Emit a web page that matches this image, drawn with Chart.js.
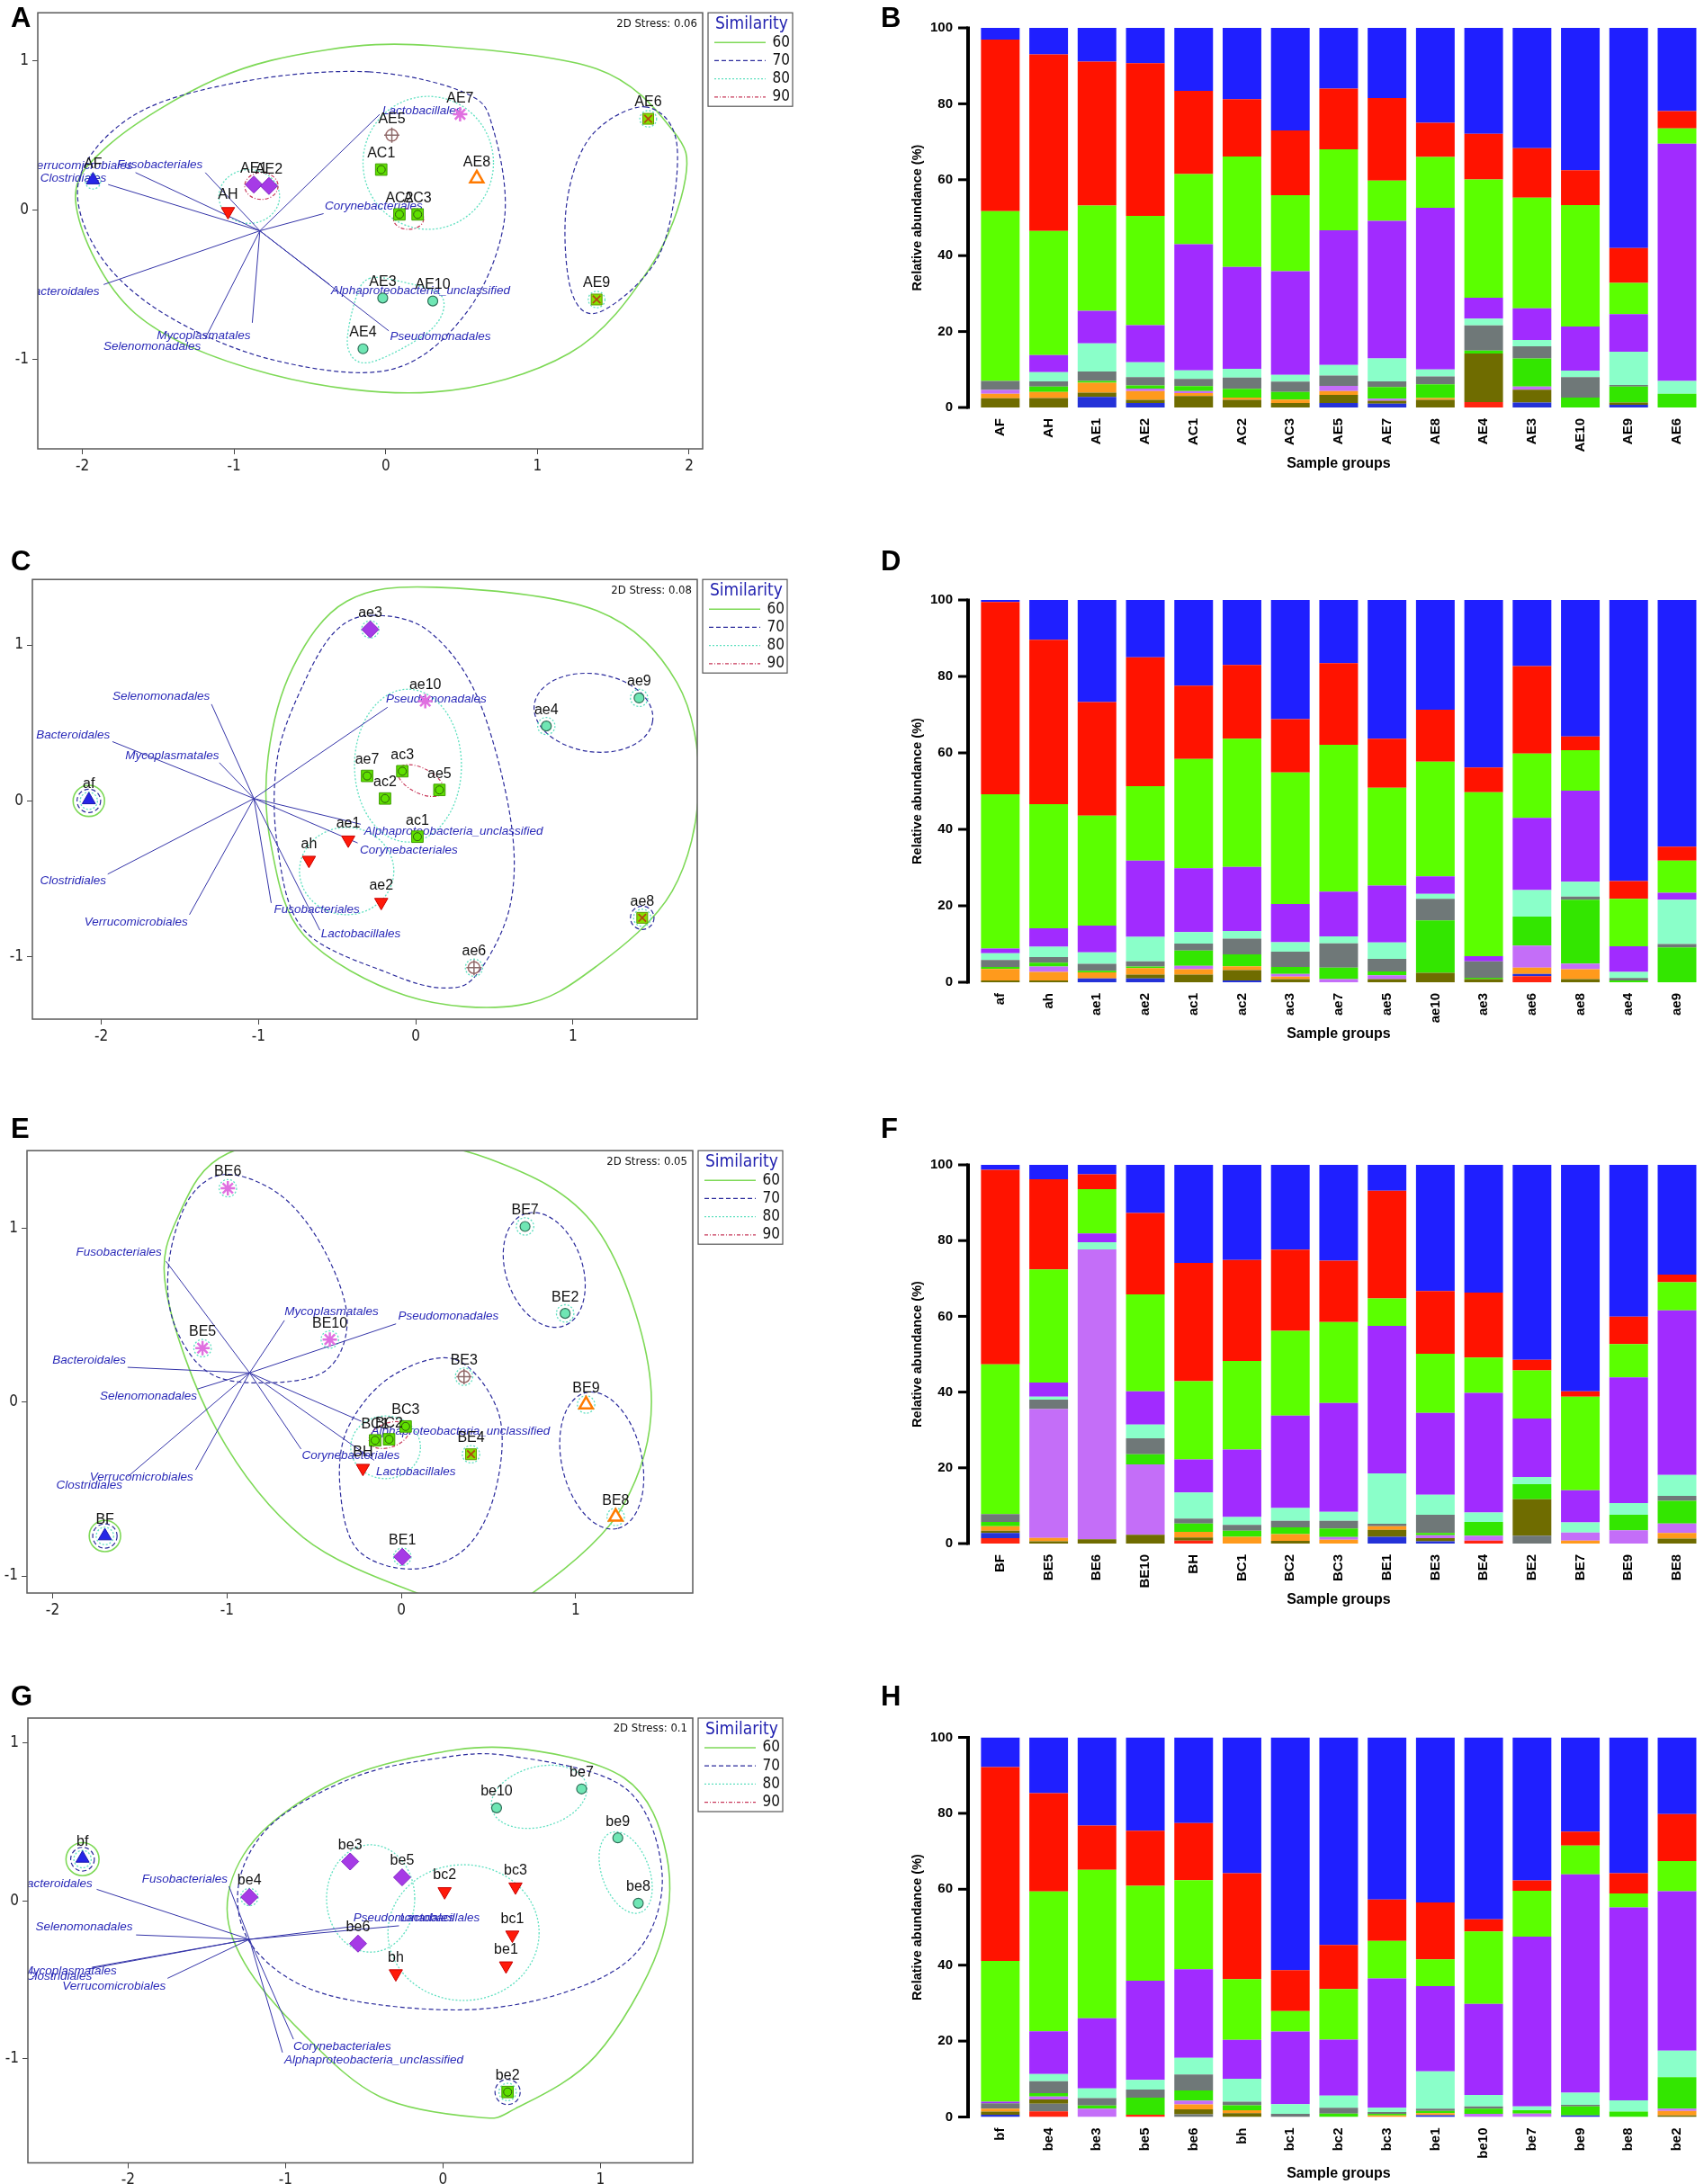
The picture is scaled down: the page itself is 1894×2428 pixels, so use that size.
<!DOCTYPE html>
<html>
<head>
<meta charset="utf-8">
<script src="https://cdn.jsdelivr.net/npm/chart.js@4.4.1/dist/chart.umd.min.js"></script>
<style>
body { margin: 0; background: #fff; }
#page { position: relative; width: 1894px; height: 2428px; overflow: hidden; background: #fff; }
canvas { position: absolute; }
.lab { position: absolute; font: bold 31px 'Liberation Sans', Arial, sans-serif; line-height: 31px; color: #000; }
</style>
</head>
<body>
<div id="page">
  <canvas id="ordA" width="940" height="560" style="left:0;top:0"></canvas>
  <canvas id="barB" width="954" height="560" style="left:940px;top:0"></canvas>
  <canvas id="ordC" width="940" height="560" style="left:0;top:630px"></canvas>
  <canvas id="barD" width="954" height="540" style="left:940px;top:640px"></canvas>
  <canvas id="ordE" width="940" height="560" style="left:0;top:1265px"></canvas>
  <canvas id="barF" width="954" height="540" style="left:940px;top:1270px"></canvas>
  <canvas id="ordG" width="940" height="533" style="left:0;top:1895px"></canvas>
  <canvas id="barH" width="954" height="528" style="left:940px;top:1900px"></canvas>
  <div class="lab" style="left:12px;top:4px">A</div>
  <div class="lab" style="left:979px;top:4px">B</div>
  <div class="lab" style="left:12px;top:608px">C</div>
  <div class="lab" style="left:979px;top:608px">D</div>
  <div class="lab" style="left:12px;top:1239px">E</div>
  <div class="lab" style="left:979px;top:1239px">F</div>
  <div class="lab" style="left:12px;top:1870px">G</div>
  <div class="lab" style="left:979px;top:1870px">H</div>
</div>
<script>
const FONT = "'Liberation Sans', Arial, sans-serif"
const NARROW = "'Liberation Sans Narrow', 'Arial Narrow', 'DejaVu Sans Condensed', 'Liberation Sans', sans-serif"

// ---------- NMDS panels (A, C, E, G) ----------
const simLevels = [60, 70, 80, 90]

const aNames = ['AF','AH','AE1','AE2','AE5','AE7','AC1','AE8','AC2','AC3','AE3','AE10','AE4','AE6','AE9']
const aX = [-1.93,-1.04,-0.87,-0.77,0.04,0.49,-0.03,0.60,0.09,0.21,-0.02,0.31,-0.15,1.73,1.39]
const aY = [0.20,-0.01,0.17,0.16,0.50,0.64,0.27,0.21,-0.03,-0.03,-0.59,-0.61,-0.93,0.61,-0.60]
const aMark = ['tri','down','dia','dia','plus','star','sq','otri','sq','sq','circ','circ','circ','boxx','boxx']
const aOrigin = [-0.83, -0.14]
const aVec = ['Verrucomicrobiales','Clostridiales','Fusobacteriales','Lactobacillales','Corynebacteriales','Bacteroidales','Mycoplasmatales','Selenomonadales','Pseudomonadales','Alphaproteobacteria_unclassified']
const aVecX = [-1.65,-1.83,-1.19,-0.04,-0.41,-1.86,-0.88,-1.19,0.02,-0.37]
const aVecY = [0.25,0.17,0.25,0.64,-0.025,-0.50,-0.756,-0.86,-0.81,-0.50]
const aLabX = [-2.01,-2.06,-1.49,0.24,-0.08,-2.13,-1.20,-1.54,0.36,0.23]
const aLabY = [0.295,0.213,0.303,0.664,0.027,-0.545,-0.844,-0.916,-0.848,-0.541]
const aHulls = [
  {lvl:60, pts:[[0.31,1.10],[1.39,0.945],[1.89,0.535],[1.975,0.207],[1.74,-0.39],[1.21,-0.96],[0.31,-1.22],[-0.76,-1.10],[-1.65,-0.695],[-2.04,0.02],[-1.83,0.43],[-1.11,0.88],[-0.4,1.07]]},
  {lvl:70, pts:[[-0.11,0.924],[0.53,0.78],[0.71,0.535],[0.78,-0.08],[0.53,-0.69],[0.03,-1.07],[-0.76,-1.0],[-1.47,-0.69],[-1.9,-0.28],[-2.02,0.21],[-1.65,0.64],[-0.94,0.86]]},
  {lvl:70, pts:[[1.71,0.69],[1.92,0.43],[1.81,-0.285],[1.42,-0.68],[1.225,-0.55],[1.19,0.02],[1.35,0.49]]},
  {lvl:80, ell:[0.28,0.315,0.43,0.445,0]},
  {lvl:80, ell:[-0.9,0.09,0.2,0.18,0]},
  {lvl:80, pts:[[-0.11,-0.46],[0.1,-0.48],[0.37,-0.58],[0.3,-0.8],[-0.1,-1.02],[-0.25,-0.92],[-0.2,-0.6]]},
  {lvl:80, ell:[-1.93,0.19,0.05,0.05,0]},
  {lvl:80, ell:[1.73,0.61,0.055,0.055,0]},
  {lvl:80, ell:[1.39,-0.60,0.055,0.055,0]},
  {lvl:90, ell:[-0.82,0.16,0.11,0.09,0]},
  {lvl:90, ell:[0.15,-0.06,0.1,0.07,0]}
]

const cNames = ['af','ae3','ae10','ae9','ae4','ae7','ac3','ae5','ac2','ac1','ae1','ah','ae2','ae6','ae8']
const cX = [-2.08,-0.29,0.06,1.42,0.83,-0.31,-0.086,0.15,-0.196,0.01,-0.43,-0.68,-0.22,0.37,1.44]
const cY = [0.006,1.10,0.64,0.66,0.48,0.16,0.19,0.07,0.015,-0.23,-0.25,-0.38,-0.65,-1.07,-0.75]
const cMark = ['tri','dia','star','circ','circ','sq','sq','sq','sq','sq','down','down','down','plus','boxx']
const cOrigin = [-1.03, 0.015]
const cVec = ['Selenomonadales','Bacteroidales','Mycoplasmatales','Pseudomonadales','Alphaproteobacteria_unclassified','Corynebacteriales','Clostridiales','Verrucomicrobiales','Fusobacteriales','Lactobacillales']
const cVecX = [-1.30,-1.93,-1.25,-0.18,-0.35,-0.37,-1.96,-1.44,-0.92,-0.61]
const cVecY = [0.62,0.38,0.245,0.60,-0.15,-0.27,-0.47,-0.73,-0.655,-0.83]
const cLabX = [-1.62,-2.18,-1.55,0.13,0.24,-0.045,-2.18,-1.78,-0.63,-0.35]
const cLabY = [0.67,0.42,0.29,0.65,-0.195,-0.316,-0.515,-0.78,-0.70,-0.855]
const cHulls = [
  {lvl:60, pts:[[0.13,1.37],[1.15,1.22],[1.66,0.76],[1.80,0.09],[1.63,-0.58],[1.15,-1.06],[0.66,-1.31],[-0.06,-1.25],[-0.71,-0.865],[-0.92,-0.29],[-0.94,0.28],[-0.78,0.86],[-0.44,1.28]]},
  {lvl:60, ell:[-2.08,0.0,0.1,0.1,0]},
  {lvl:70, pts:[[-0.27,1.19],[0.08,1.09],[0.39,0.67],[0.60,-0.10],[0.60,-0.67],[0.39,-1.11],[0.18,-1.2],[-0.16,-1.11],[-0.71,-0.83],[-0.88,-0.29],[-0.88,0.28],[-0.71,0.76],[-0.51,1.09]]},
  {lvl:70, ell:[1.13,0.565,0.38,0.25,-8]},
  {lvl:70, ell:[-2.08,0.0,0.075,0.075,0]},
  {lvl:70, ell:[1.44,-0.75,0.075,0.075,0]},
  {lvl:80, ell:[-0.05,0.226,0.34,0.49,0]},
  {lvl:80, ell:[-0.44,-0.45,0.30,0.28,0]},
  {lvl:80, ell:[-0.29,1.10,0.055,0.055,0]},
  {lvl:80, ell:[1.42,0.66,0.055,0.055,0]},
  {lvl:80, ell:[0.83,0.48,0.055,0.055,0]},
  {lvl:80, ell:[0.37,-1.07,0.055,0.055,0]},
  {lvl:80, ell:[1.44,-0.75,0.055,0.055,0]},
  {lvl:80, ell:[-2.08,0.0,0.055,0.055,0]},
  {lvl:90, ell:[0.03,0.13,0.16,0.08,-27]}
]

const eNames = ['BE6','BE7','BE2','BE5','BE10','BE3','BE9','BC1','BC2','BC3','BE4','BH','BE8','BF','BE1']
const eX = [-0.995,0.71,0.94,-1.14,-0.41,0.36,1.06,-0.15,-0.07,0.025,0.40,-0.22,1.23,-1.70,0.006]
const eY = [1.23,1.01,0.51,0.31,0.36,0.146,-0.014,-0.22,-0.214,-0.14,-0.30,-0.38,-0.66,-0.77,-0.89]
const eMark = ['star','circ','circ','star','star','plus','otri','sq','sq','sq','boxx','down','otri','tri','dia']
const eOrigin = [-0.87, 0.168]
const eVec = ['Fusobacteriales','Mycoplasmatales','Pseudomonadales','Bacteroidales','Selenomonadales','Alphaproteobacteria_unclassified','Corynebacteriales','Lactobacillales','Verrucomicrobiales','Clostridiales']
const eVecX = [-1.35,-0.67,-0.03,-1.57,-1.17,-0.23,-0.575,-0.155,-1.18,-1.57]
const eVecY = [0.81,0.47,0.45,0.20,0.075,-0.11,-0.27,-0.335,-0.39,-0.43]
const eLabX = [-1.62,-0.40,0.27,-1.79,-1.45,0.34,-0.29,0.084,-1.49,-1.79]
const eLabY = [0.86,0.52,0.495,0.24,0.036,-0.17,-0.31,-0.40,-0.43,-0.48]
const eHulls = [
  {lvl:60, pts:[[-0.31,1.54],[0.5,1.40],[1.12,1.0],[1.43,0.11],[1.27,-0.60],[0.75,-1.10],[0.44,-1.19],[0.12,-1.11],[-0.56,-0.78],[-1.06,-0.157],[-1.35,0.65],[-1.27,1.09],[-0.995,1.43]]},
  {lvl:60, ell:[-1.70,-0.77,0.09,0.09,0]},
  {lvl:70, pts:[[-0.995,1.31],[-0.68,1.18],[-0.435,0.86],[-0.31,0.47],[-0.435,0.18],[-0.81,0.11],[-1.12,0.18],[-1.31,0.47],[-1.33,0.825],[-1.21,1.18]]},
  {lvl:70, ell:[0.82,0.76,0.34,0.22,-71]},
  {lvl:70, pts:[[0.31,0.245],[0.56,-0.07],[0.54,-0.51],[0.37,-0.84],[0.06,-0.96],[-0.25,-0.85],[-0.35,-0.51],[-0.31,-0.157],[-0.06,0.146]]},
  {lvl:70, ell:[1.15,-0.336,0.40,0.23,-77]},
  {lvl:70, ell:[-1.70,-0.77,0.07,0.07,0]},
  {lvl:80, ell:[-0.09,-0.26,0.2,0.18,0]},
  {lvl:80, ell:[-0.995,1.23,0.05,0.05,0]},
  {lvl:80, ell:[0.71,1.01,0.05,0.05,0]},
  {lvl:80, ell:[0.94,0.51,0.05,0.05,0]},
  {lvl:80, ell:[-1.14,0.31,0.05,0.05,0]},
  {lvl:80, ell:[-0.41,0.36,0.05,0.05,0]},
  {lvl:80, ell:[0.36,0.146,0.05,0.05,0]},
  {lvl:80, ell:[1.06,-0.014,0.05,0.05,0]},
  {lvl:80, ell:[0.40,-0.30,0.05,0.05,0]},
  {lvl:80, ell:[1.23,-0.66,0.05,0.05,0]},
  {lvl:80, ell:[-1.70,-0.77,0.05,0.05,0]},
  {lvl:80, ell:[0.006,-0.89,0.05,0.05,0]},
  {lvl:90, ell:[-0.07,-0.19,0.12,0.07,20]}
]

const gNames = ['bf','be4','be3','be5','be6','be10','be7','be9','be8','bc2','bc3','bc1','be1','bh','be2']
const gX = [-2.29,-1.23,-0.59,-0.26,-0.54,0.34,0.88,1.11,1.24,0.01,0.46,0.44,0.40,-0.30,0.41]
const gY = [0.27,0.025,0.25,0.15,-0.27,0.59,0.71,0.40,-0.014,0.06,0.09,-0.215,-0.41,-0.46,-1.21]
const gMark = ['tri','dia','dia','dia','dia','circ','circ','circ','circ','down','down','down','down','down','sq']
const gOrigin = [-1.23, -0.243]
const gVec = ['Bacteroidales','Fusobacteriales','Selenomonadales','Mycoplasmatales','Clostridiales','Verrucomicrobiales','Pseudomonadales','Lactobacillales','Corynebacteriales','Alphaproteobacteria_unclassified']
const gVecX = [-2.20,-1.36,-1.95,-2.23,-2.25,-1.75,-0.56,-0.28,-0.95,-1.02]
const gVecY = [0.074,0.094,-0.215,-0.42,-0.43,-0.49,-0.16,-0.157,-0.876,-0.96]
const gLabX = [-2.46,-1.64,-2.28,-2.37,-2.44,-2.09,-0.25,-0.02,-0.64,-0.44]
const gLabY = [0.11,0.137,-0.166,-0.446,-0.48,-0.54,-0.11,-0.11,-0.92,-1.006]
const gHulls = [
  {lvl:60, pts:[[0.42,0.97],[1.15,0.78],[1.42,0.29],[1.37,-0.30],[0.97,-0.98],[0.46,-1.315],[0.22,-1.37],[-0.40,-1.24],[-0.885,-0.845],[-1.26,-0.395],[-1.37,-0.004],[-1.195,0.39],[-0.75,0.72],[-0.23,0.90]]},
  {lvl:60, ell:[-2.29,0.265,0.105,0.105,0]},
  {lvl:70, pts:[[0.42,0.92],[1.15,0.72],[1.39,0.19],[1.25,-0.30],[0.80,-0.57],[0.11,-0.69],[-0.75,-0.59],[-1.20,-0.30],[-1.30,0.094],[-1.09,0.485],[-0.575,0.78],[-0.06,0.90]]},
  {lvl:70, ell:[-2.29,0.265,0.075,0.075,0]},
  {lvl:70, ell:[0.41,-1.21,0.08,0.08,0]},
  {lvl:80, ell:[0.61,0.66,0.31,0.19,15]},
  {lvl:80, ell:[1.16,0.18,0.27,0.15,-70]},
  {lvl:80, ell:[-0.46,0.016,0.28,0.34,0]},
  {lvl:80, ell:[0.13,-0.20,0.48,0.43,0]},
  {lvl:80, ell:[-2.29,0.265,0.055,0.055,0]},
  {lvl:80, ell:[-1.23,0.025,0.055,0.055,0]},
  {lvl:80, ell:[0.41,-1.21,0.055,0.055,0]}
]

// ---------- relative abundance panels (B, D, F, H) ----------
const yTicks = [0, 20, 40, 60, 80, 100]
const layerNames = ['red2','gray0','navy','olive','orange','lilac','green2','gray','aqua','purple','green','red','blue']
const layerColors = ['#ff2410','#6f7777','#2432d8','#6f6c00','#ff9a1c','#c46ef8','#33e600','#6f7878','#8affc9','#a12bff','#5bff00','#ff1300','#1f1fff']

const bLabels = ['AF','AH','AE1','AE2','AC1','AC2','AC3','AE5','AE7','AE8','AE4','AE3','AE10','AE9','AE6']
const bRed2   = [0,0,0,0,0,0,0,0,0,0,1.4,0,0,0,0]
const bGray0  = [0,0,0,0,0,0,0,0,0,0,0,0,0,0,0]
const bNavy   = [0,0,2.8,1.2,0,0,0,1.2,1.0,0,0,1.3,0,0.7,0]
const bOlive  = [2.4,2.5,1.1,0.8,3.0,2.0,1.2,2.1,0.8,2.0,12.8,3.4,0,0.6,0]
const bOrange = [1.2,1.6,2.6,2.3,0.8,0.6,0.9,1.0,0,0.5,0,0,0,0,0]
const bLilac  = [1.0,0,0,0.7,0.5,0,0,1.4,0.5,0,0,0.8,0,0,0]
const bGreen2 = [0,1.4,0.5,0.8,1.3,2.3,2.0,0,3.1,3.6,0.8,7.4,2.6,4.2,3.6]
const bGray   = [2.4,1.4,2.5,2.2,1.9,3.0,2.7,2.7,1.5,2.1,6.6,3.2,5.4,0.4,0]
const bAqua   = [0,2.4,7.4,3.9,2.3,2.3,1.8,2.8,6.0,1.8,1.8,1.7,1.7,8.8,3.4]
const bPurple = [0,4.5,8.6,9.8,33.2,26.8,27.3,35.5,36.3,42.6,5.5,8.3,11.6,9.9,62.5]
const bGreen  = [44.7,32.7,27.7,28.8,18.5,29.1,20.0,21.3,10.6,13.4,31.2,29.2,32.0,8.2,4.0]
const bRed    = [45.2,46.5,37.9,40.2,21.9,15.1,17.1,16.0,21.7,9.0,12.0,13.0,9.2,9.2,4.6]
const bBlue   = [3.1,7.0,8.9,9.3,16.6,18.8,27.0,16.0,18.5,25.0,27.9,31.7,37.5,58.0,21.9]

const dLabels = ['af','ah','ae1','ae2','ac1','ac2','ac3','ae7','ae5','ae10','ae3','ae6','ae8','ae4','ae9']
const dRed2   = [0,0,0,0,0,0,0,0,0,0,0,1.6,0,0,0]
const dGray0  = [0,0,0,0,0,0,0,0,0,0,0,0,0,0,0]
const dNavy   = [0,0,1.0,1.0,0,0.5,0,0,0,0,0,0.6,0,0,0]
const dOlive  = [0.5,0.5,0,1.0,2.0,2.7,0.8,0,0.8,2.5,0.8,0,0.8,0,0]
const dOrange = [3.0,2.2,1.6,1.7,1.4,1.0,0.7,0,0,0,0,1.6,2.6,0,0]
const dLilac  = [0,1.4,0,0,0.9,0,0.7,0.8,1.0,0,0,5.8,1.5,0,0]
const dGreen2 = [0.5,1.0,0.4,0.4,4.0,3.1,1.8,3.0,1.0,13.7,0.4,7.6,16.7,0.5,9.1]
const dGray   = [1.8,1.5,1.8,1.4,1.8,4.1,4.0,6.4,3.3,5.6,4.3,0,0.8,0.6,0.9]
const dAqua   = [1.8,2.7,3.0,6.4,3.0,2.0,2.5,1.8,4.3,1.3,0,6.9,3.9,1.6,11.6]
const dPurple = [1.2,4.8,7.0,19.9,16.7,16.8,10.0,11.7,14.9,4.6,1.3,18.9,23.8,6.7,1.8]
const dGreen  = [40.4,32.5,28.8,19.5,28.6,33.5,34.4,38.4,25.6,30.0,42.9,16.8,10.6,12.4,8.4]
const dRed    = [50.3,43.0,29.7,33.7,19.2,19.3,13.9,21.4,12.8,13.6,6.5,22.9,3.6,4.7,3.7]
const dBlue   = [0.5,10.4,26.7,15.0,22.4,17.0,31.2,16.5,36.3,28.7,43.8,17.7,35.7,73.5,64.5]

const fLabels = ['BF','BE5','BE6','BE10','BH','BC1','BC2','BC3','BE1','BE3','BE4','BE2','BE7','BE9','BE8']
const fRed2   = [1.4,0,0,0,0.8,0,0,0,0,0,0.8,0,0,0,0]
const fGray0  = [0,0,0,0,0,0,0,0,0,0,0,2.1,0,0,0]
const fNavy   = [1.4,0,0,0,0,0,0,0,1.8,0.6,0,0,0,0,0]
const fOlive  = [0.6,0.6,1.1,2.3,0.8,0,0.7,0,1.8,0.8,0,9.6,0,0,1.3]
const fOrange = [1.2,0.9,0,0,1.5,1.8,1.8,1.0,1.0,0,0,0,0.8,0,1.5]
const fLilac  = [0,34.0,76.6,18.6,0,0,0,0.7,0,0.8,1.3,0,2.1,3.5,2.5]
const fGreen2 = [1.1,0,0,2.7,2.2,1.6,1.8,2.3,0,0.6,3.6,4.0,0,4.1,6.0]
const fGray   = [2.1,2.5,0,4.2,1.3,1.5,1.7,2.0,0.6,4.8,0,0,0,0,1.3]
const fAqua   = [0,0.8,1.9,3.6,6.9,2.1,3.4,2.4,13.3,5.3,2.5,1.9,2.7,3.1,5.5]
const fPurple = [0,3.7,2.3,8.8,8.7,17.8,24.4,28.7,39.0,21.6,31.6,15.4,8.5,33.2,43.5]
const fGreen  = [39.5,29.9,11.7,25.6,20.7,23.4,22.4,21.4,7.2,15.6,9.3,12.7,24.7,8.8,7.4]
const fRed    = [51.4,23.8,3.9,21.5,31.2,26.7,21.4,16.2,28.5,16.6,17.2,2.8,1.4,7.2,2.0]
const fBlue   = [1.3,3.8,2.5,12.7,25.9,25.1,22.4,25.3,6.8,33.3,33.7,51.5,59.8,40.1,29.0]

const hLabels = ['bf','be4','be3','be5','be6','bh','bc1','bc2','bc3','be1','be10','be7','be9','be8','be2']
const hRed2   = [0,1.5,0,0.6,0,0,0,0,0,0,0,0,0,0,0]
const hGray0  = [0,2.0,0,0,0.7,0,0.8,0,0,0,0,0,0,0,0]
const hNavy   = [0.6,0,0,0,0,0,0,0,0,0.5,0,0,0.4,0,0]
const hOlive  = [0.8,1.1,0,0,1.3,1.0,0,0,0,0,0,0,0,0,0.4]
const hOrange = [0.8,0,0,0,1.3,0.8,0,0,0.4,0.5,0,0,0,0,1.2]
const hLilac  = [0,0.8,2.2,0,1.0,0,0,0,0,0,0.8,0.9,0,0,0.6]
const hGreen2 = [0,0.9,0.8,4.5,2.7,1.3,0,0.9,0.4,0.6,1.4,0.9,2.4,1.4,8.3]
const hGray   = [1.4,3.1,2.0,2.1,4.2,0.9,0,1.5,0.5,0.6,0.6,0,0.4,0,0]
const hAqua   = [0,1.9,2.5,2.6,4.4,6.1,2.6,3.2,1.1,9.8,3.0,1.0,3.2,3.0,7.0]
const hPurple = [0.4,11.3,18.5,26.1,23.3,10.2,19.1,14.8,34.1,22.5,24.0,44.7,57.5,50.8,42.0]
const hGreen  = [37.1,36.8,39.1,25.0,23.5,16.0,5.4,13.3,9.9,7.0,19.1,12.1,7.6,3.7,7.9]
const hRed    = [51.1,25.9,11.7,14.5,15.0,27.9,10.8,11.6,10.9,15.0,3.2,2.7,3.7,5.3,12.4]
const hBlue   = [7.8,14.7,23.2,24.6,22.6,35.8,61.3,54.7,42.7,43.5,47.9,37.7,24.8,35.8,20.2]

// ---------- styles ----------
const LVL = {
  60: {color: '#7ed957', dash: [], w: 1.6},
  70: {color: '#2b2b9c', dash: [5, 3], w: 1.2},
  80: {color: '#5fe0c0', dash: [2, 2], w: 1.3},
  90: {color: '#c8385a', dash: [4, 2, 1, 2], w: 1.2}
}

const MARK = {
  tri:  [{ps:'triangle', r:8.5, bg:'#2626e6', bc:'#1a1ab0', bw:1}],
  down: [{ps:'triangle', r:8.5, rot:180, bg:'#ff1a0a', bc:'#c80000', bw:1}],
  dia:  [{ps:'rectRot', r:9.5, bg:'#a63be6', bc:'#7d20c0', bw:1}],
  sq:   [{ps:'rect', r:9, bg:'#5fe000', bc:'#3f9c00', bw:1}, {ps:'circle', r:4.5, bg:'rgba(0,0,0,0)', bc:'#2e5a10', bw:1}],
  circ: [{ps:'circle', r:5.5, bg:'#6fe6b4', bc:'#2f6f58', bw:1.2}],
  star: [{ps:'star', r:8, bg:'#e070e0', bc:'#e070e0', bw:2.5}],
  plus: [{ps:'circle', r:6.5, bg:'rgba(0,0,0,0)', bc:'#9a6a6a', bw:1.5}, {ps:'cross', r:8.5, bg:'#8a6a6a', bc:'#8a6a6a', bw:1.5}],
  otri: [{ps:'triangle', r:8.5, bg:'#ffffff', bc:'#ff7a00', bw:2.5}],
  boxx: [{ps:'rect', r:8.5, bg:'#86e000', bc:'#5a9a00', bw:1}, {ps:'crossRot', r:6, bg:'#b04a10', bc:'#b04a10', bw:1.8}]
}

function ordPlugin(o) {
  return {
    id: 'ord',
    beforeDatasetsDraw(chart) {
      const {ctx, chartArea: a, scales: {x, y}} = chart
      const ux = x.getPixelForValue(1) - x.getPixelForValue(0)
      const uy = y.getPixelForValue(0) - y.getPixelForValue(1)
      ctx.save()
      ctx.beginPath(); ctx.rect(a.left, a.top, a.width, a.height); ctx.clip()
      o.hulls.forEach(h => {
        const st = LVL[h.lvl]
        ctx.beginPath()
        if (h.ell) {
          const [cx, cy, rx, ry, rot] = h.ell
          ctx.ellipse(x.getPixelForValue(cx), y.getPixelForValue(cy), rx * ux, ry * uy, -rot * Math.PI / 180, 0, Math.PI * 2)
        } else {
          const p = h.pts.map(q => [x.getPixelForValue(q[0]), y.getPixelForValue(q[1])])
          const n = p.length
          ctx.moveTo(p[0][0], p[0][1])
          for (let i = 0; i < n; i++) {
            const p0 = p[(i - 1 + n) % n], p1 = p[i], p2 = p[(i + 1) % n], p3 = p[(i + 2) % n]
            ctx.bezierCurveTo(p1[0] + (p2[0] - p0[0]) / 6, p1[1] + (p2[1] - p0[1]) / 6,
              p2[0] - (p3[0] - p1[0]) / 6, p2[1] - (p3[1] - p1[1]) / 6, p2[0], p2[1])
          }
          ctx.closePath()
        }
        ctx.strokeStyle = st.color; ctx.lineWidth = st.w; ctx.setLineDash(st.dash); ctx.stroke()
      })
      // vectors
      ctx.setLineDash([])
      ctx.strokeStyle = '#3434a8'; ctx.lineWidth = 1
      const ox = x.getPixelForValue(o.origin[0]), oy = y.getPixelForValue(o.origin[1])
      o.vec.forEach((name, i) => {
        ctx.beginPath(); ctx.moveTo(ox, oy)
        ctx.lineTo(x.getPixelForValue(o.vx[i]), y.getPixelForValue(o.vy[i])); ctx.stroke()
      })
      ctx.fillStyle = '#2a2ab8'
      ctx.font = `italic 13.5px ${FONT}`
      ctx.textAlign = 'center'; ctx.textBaseline = 'middle'
      o.vec.forEach((name, i) => ctx.fillText(name, x.getPixelForValue(o.lx[i]), y.getPixelForValue(o.ly[i])))
      ctx.restore()
    },
    afterDatasetsDraw(chart) {
      const {ctx, scales: {x, y}} = chart
      ctx.save()
      ctx.fillStyle = '#111'
      ctx.font = `16px ${FONT}`
      ctx.textAlign = 'center'; ctx.textBaseline = 'bottom'
      o.names.forEach((n, i) => ctx.fillText(n, x.getPixelForValue(o.x[i]), y.getPixelForValue(o.y[i]) - 10))
      ctx.restore()
    },
    afterDraw(chart) {
      const {ctx, chartArea: a} = chart
      ctx.save()
      ctx.strokeStyle = '#5a5a5a'; ctx.lineWidth = 1.5
      ctx.strokeRect(a.left, a.top, a.width, a.height)
      ctx.fillStyle = '#111'; ctx.font = `13px ${NARROW}`
      ctx.textAlign = 'right'; ctx.textBaseline = 'middle'
      ctx.fillText('2D Stress: ' + o.stress, a.right - 6, a.top + 12)
      // similarity legend
      const L = a.right + 6, T = a.top, W = 94, H = 104
      ctx.lineWidth = 1.2; ctx.strokeStyle = '#555'
      ctx.strokeRect(L, T, W, H)
      ctx.fillStyle = '#2323b0'; ctx.font = `19px ${NARROW}`
      ctx.textAlign = 'left'
      ctx.fillText('Similarity', L + 8, T + 13)
      simLevels.forEach((v, i) => {
        const yy = T + 33 + i * 20.2, st = LVL[v]
        ctx.beginPath(); ctx.setLineDash(st.dash); ctx.strokeStyle = st.color; ctx.lineWidth = st.w
        ctx.moveTo(L + 7, yy); ctx.lineTo(L + 64, yy); ctx.stroke()
        ctx.setLineDash([])
        ctx.fillStyle = '#111'; ctx.font = `17px ${NARROW}`; ctx.textAlign = 'right'
        ctx.fillText(String(v), L + W - 3, yy)
      })
      ctx.restore()
    }
  }
}

function ordination(id, o) {
  const ds = []
  Object.keys(MARK).forEach(t => {
    const idx = o.type.map((v, i) => v === t ? i : -1).filter(i => i >= 0)
    if (!idx.length) return
    MARK[t].forEach((m, k) => ds.push({
      data: idx.map(i => ({x: o.x[i], y: o.y[i]})),
      pointStyle: m.ps, pointRadius: m.r, pointHoverRadius: m.r, pointRotation: m.rot || 0,
      backgroundColor: m.bg, borderColor: m.bc, borderWidth: m.bw,
      order: k ? 0 : 1, showLine: false
    }))
  })
  const tickFont = {family: NARROW, size: 17}
  new Chart(document.getElementById(id), {
    type: 'scatter',
    data: {datasets: ds},
    options: {
      responsive: false, animation: false, devicePixelRatio: 1,
      layout: {padding: {left: 0, top: o.top, right: o.right, bottom: 0}},
      plugins: {legend: {display: false}, tooltip: {enabled: false}},
      events: [],
      scales: {
        x: {type: 'linear', min: o.xr[0], max: o.xr[1],
            afterFit: s => { s.height = o.axH },
            ticks: {stepSize: 1, includeBounds: false, color: '#222', font: tickFont, padding: 3, maxRotation: 0},
            grid: {drawOnChartArea: false, tickLength: 6, color: '#444'},
            border: {display: false}},
        y: {type: 'linear', min: o.yr[0], max: o.yr[1],
            afterFit: s => { s.width = o.axW },
            ticks: {stepSize: 1, includeBounds: false, color: '#222', font: tickFont, padding: 4},
            grid: {drawOnChartArea: false, tickLength: 6, color: '#444'},
            border: {display: false}}
      }
    },
    plugins: [ordPlugin(o)]
  })
}

function barAxisPlugin(titleY) {
  return {
    id: 'relAxis',
    afterDraw(chart) {
      const {ctx, chartArea: a, scales: {y}} = chart
      const ax = 136
      ctx.save()
      ctx.strokeStyle = '#000'; ctx.fillStyle = '#000'
      ctx.lineWidth = 4
      ctx.beginPath(); ctx.moveTo(ax, y.getPixelForValue(0) + 1.5); ctx.lineTo(ax, y.getPixelForValue(100) - 1.5); ctx.stroke()
      ctx.font = `bold 15px ${FONT}`
      ctx.textAlign = 'right'; ctx.textBaseline = 'middle'
      yTicks.forEach(v => {
        const py = y.getPixelForValue(v)
        ctx.lineWidth = 3
        ctx.beginPath(); ctx.moveTo(ax - 11, py); ctx.lineTo(ax, py); ctx.stroke()
        ctx.fillText(String(v), ax - 17, py)
      })
      ctx.save()
      ctx.translate(80, (y.getPixelForValue(0) + y.getPixelForValue(100)) / 2)
      ctx.rotate(-Math.PI / 2)
      ctx.textAlign = 'center'
      ctx.font = `bold 14.5px ${FONT}`
      ctx.fillText('Relative abundance (%)', 0, 0)
      ctx.restore()
      ctx.font = `bold 16px ${FONT}`
      ctx.textAlign = 'center'
      ctx.fillText('Sample groups', (a.left + a.right) / 2, titleY)
      ctx.restore()
    }
  }
}

function abundance(id, labels, layers, o) {
  new Chart(document.getElementById(id), {
    type: 'bar',
    data: {
      labels,
      datasets: layers.map((v, i) => ({
        label: layerNames[i], data: v, backgroundColor: layerColors[i],
        borderWidth: 0, categoryPercentage: 1, barPercentage: 0.8
      }))
    },
    options: {
      responsive: false, animation: false, devicePixelRatio: 1,
      layout: {padding: {left: 145, right: 0, top: o.top, bottom: 0}},
      plugins: {legend: {display: false}, tooltip: {enabled: false}},
      events: [],
      scales: {
        x: {stacked: true, grid: {display: false, drawTicks: false}, border: {display: false},
            ticks: {autoSkip: false, minRotation: 90, maxRotation: 90, padding: 12, color: '#000',
                    font: {family: FONT, size: 15, weight: 'bold'}},
            afterFit: s => { s.height = o.axH }},
        y: {stacked: true, display: false, min: 0, max: 100}
      }
    },
    plugins: [barAxisPlugin(o.titleY)]
  })
}

ordination('ordA', {names: aNames, x: aX, y: aY, type: aMark, origin: aOrigin, vec: aVec, vx: aVecX, vy: aVecY,
  lx: aLabX, ly: aLabY, hulls: aHulls, stress: '0.06', xr: [-2.294, 2.089], yr: [-1.60, 1.32],
  top: 6, right: 159, axW: 42, axH: 61})
ordination('ordC', {names: cNames, x: cX, y: cY, type: cMark, origin: cOrigin, vec: cVec, vx: cVecX, vy: cVecY,
  lx: cLabX, ly: cLabY, hulls: cHulls, stress: '0.08', xr: [-2.439, 1.79], yr: [-1.40, 1.42],
  top: 12, right: 165, axW: 36, axH: 57})
ordination('ordE', {names: eNames, x: eX, y: eY, type: eMark, origin: eOrigin, vec: eVec, vx: eVecX, vy: eVecY,
  lx: eLabX, ly: eLabY, hulls: eHulls, stress: '0.05', xr: [-2.147, 1.672], yr: [-1.098, 1.446],
  top: 13, right: 170, axW: 30, axH: 54})
ordination('ordG', {names: gNames, x: gX, y: gY, type: gMark, origin: gOrigin, vec: gVec, vx: gVecX, vy: gVecY,
  lx: gLabX, ly: gLabY, hulls: gHulls, stress: '0.1', xr: [-2.637, 1.586], yr: [-1.659, 1.159],
  top: 15, right: 170, axW: 31, axH: 23.5})

abundance('barB', bLabels, [bRed2, bGray0, bNavy, bOlive, bOrange, bLilac, bGreen2, bGray, bAqua, bPurple, bGreen, bRed, bBlue],
  {top: 31, axH: 107, titleY: 516})
abundance('barD', dLabels, [dRed2, dGray0, dNavy, dOlive, dOrange, dLilac, dGreen2, dGray, dAqua, dPurple, dGreen, dRed, dBlue],
  {top: 27, axH: 88, titleY: 510})
abundance('barF', fLabels, [fRed2, fGray0, fNavy, fOlive, fOrange, fLilac, fGreen2, fGray, fAqua, fPurple, fGreen, fRed, fBlue],
  {top: 25, axH: 94, titleY: 509})
abundance('barH', hLabels, [hRed2, hGray0, hNavy, hOlive, hOrange, hLilac, hGreen2, hGray, hAqua, hPurple, hGreen, hRed, hBlue],
  {top: 31.5, axH: 74.5, titleY: 517})
</script>
</body>
</html>
